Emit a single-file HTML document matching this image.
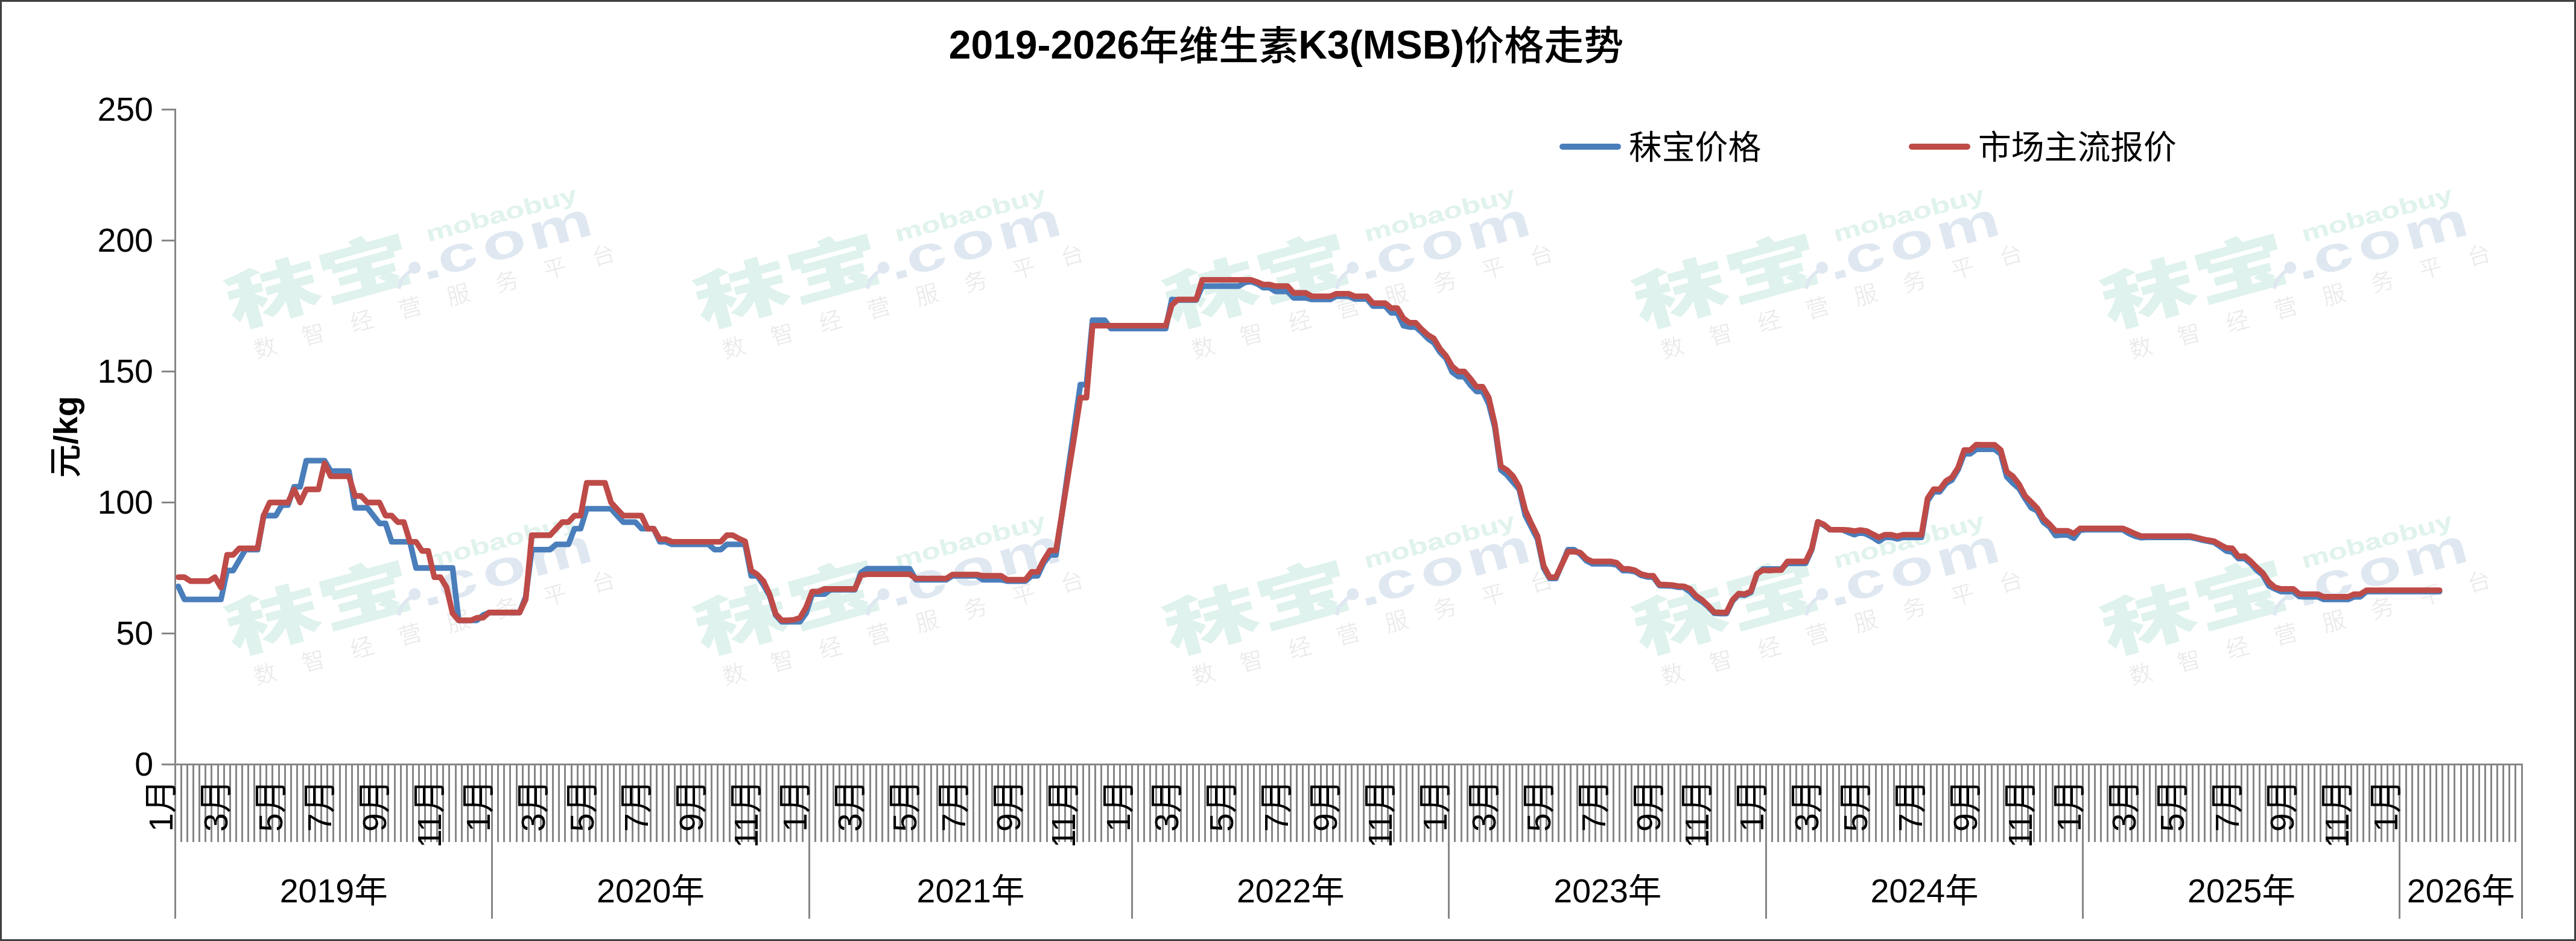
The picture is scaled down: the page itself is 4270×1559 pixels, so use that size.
<!DOCTYPE html>
<html lang="zh-CN"><head><meta charset="utf-8"><title>2019-2026年维生素K3(MSB)价格走势</title>
<style>html,body{margin:0;padding:0;background:#fff}body{width:4270px;height:1559px;overflow:hidden}svg{display:block}text{font-family:"Liberation Sans","Noto Sans CJK SC",sans-serif}.t{font-size:66px;font-weight:bold;fill:#000}.l{font-size:55.5px;fill:#000}.wm1{font-family:"Noto Sans CJK SC","Liberation Sans",sans-serif;font-weight:900;fill:#dff2ed}.wm2{font-weight:bold;fill:#dfe8f1}.wm3{font-weight:bold;fill:#e0f3ec}.wm4{font-family:"Noto Sans CJK SC",sans-serif;font-weight:300;fill:#e8e8e8}</style></head><body>
<svg width="4270" height="1559" viewBox="0 0 4270 1559">
<rect x="0" y="0" width="4270" height="1559" fill="#fff"/>
<defs><g id="wm"><text class="wm1" font-size="105" transform="translate(14,2) scale(1.5,1)">秣宝</text><path d="M296 12Q300 -4 326 -13" stroke="#dfe8f1" stroke-width="6" fill="none"/><circle cx="330" cy="-15" r="10" fill="#dfe8f1"/><text class="wm2" font-size="82" transform="translate(340,10) scale(1.45,1)" letter-spacing="3.5">.<tspan dx="-5.6">c</tspan><tspan dx="4">o</tspan><tspan dx="2">m</tspan></text><text class="wm3" font-size="37.5" transform="translate(363,-50) scale(1.36,1)">mobaobuy</text><text class="wm4" x="37" y="61" font-size="38" letter-spacing="45">数智经营服务平台</text></g></defs>
<use href="#wm" transform="translate(373,545) rotate(-15.3)"/>
<use href="#wm" transform="translate(1150,545) rotate(-15.3)"/>
<use href="#wm" transform="translate(1928,545) rotate(-15.3)"/>
<use href="#wm" transform="translate(2706,545) rotate(-15.3)"/>
<use href="#wm" transform="translate(3482,545) rotate(-15.3)"/>
<use href="#wm" transform="translate(373,1086) rotate(-15.3)"/>
<use href="#wm" transform="translate(1150,1086) rotate(-15.3)"/>
<use href="#wm" transform="translate(1928,1086) rotate(-15.3)"/>
<use href="#wm" transform="translate(2706,1086) rotate(-15.3)"/>
<use href="#wm" transform="translate(3482,1086) rotate(-15.3)"/>
<g fill="#868686">
<rect x="289" y="180" width="3" height="1088"/>
<rect x="268" y="1265" width="3914" height="3"/>
<rect x="268" y="1048.0" width="22" height="3"/>
<rect x="268" y="831.0" width="22" height="3"/>
<rect x="268" y="614.0" width="22" height="3"/>
<rect x="268" y="397.0" width="22" height="3"/>
<rect x="268" y="180.0" width="22" height="3"/>
</g>
<path d="M299 1268h3v127h-3zM309 1268h3v127h-3zM319 1268h3v127h-3zM329 1268h3v127h-3zM339 1268h3v127h-3zM349 1268h3v127h-3zM360 1268h3v127h-3zM370 1268h3v127h-3zM380 1268h3v127h-3zM390 1268h3v127h-3zM400 1268h3v127h-3zM410 1268h3v127h-3zM420 1268h3v127h-3zM430 1268h3v127h-3zM440 1268h3v127h-3zM450 1268h3v127h-3zM461 1268h3v127h-3zM471 1268h3v127h-3zM481 1268h3v127h-3zM491 1268h3v127h-3zM501 1268h3v127h-3zM511 1268h3v127h-3zM521 1268h3v127h-3zM531 1268h3v127h-3zM541 1268h3v127h-3zM551 1268h3v127h-3zM562 1268h3v127h-3zM572 1268h3v127h-3zM582 1268h3v127h-3zM592 1268h3v127h-3zM602 1268h3v127h-3zM612 1268h3v127h-3zM622 1268h3v127h-3zM632 1268h3v127h-3zM642 1268h3v127h-3zM653 1268h3v127h-3zM663 1268h3v127h-3zM673 1268h3v127h-3zM683 1268h3v127h-3zM693 1268h3v127h-3zM703 1268h3v127h-3zM713 1268h3v127h-3zM723 1268h3v127h-3zM733 1268h3v127h-3zM743 1268h3v127h-3zM754 1268h3v127h-3zM764 1268h3v127h-3zM774 1268h3v127h-3zM784 1268h3v127h-3zM794 1268h3v127h-3zM804 1268h3v127h-3zM814 1268h3v127h-3zM824 1268h3v127h-3zM834 1268h3v127h-3zM844 1268h3v127h-3zM855 1268h3v127h-3zM865 1268h3v127h-3zM875 1268h3v127h-3zM885 1268h3v127h-3zM895 1268h3v127h-3zM905 1268h3v127h-3zM915 1268h3v127h-3zM925 1268h3v127h-3zM935 1268h3v127h-3zM946 1268h3v127h-3zM956 1268h3v127h-3zM966 1268h3v127h-3zM976 1268h3v127h-3zM986 1268h3v127h-3zM996 1268h3v127h-3zM1006 1268h3v127h-3zM1016 1268h3v127h-3zM1026 1268h3v127h-3zM1036 1268h3v127h-3zM1047 1268h3v127h-3zM1057 1268h3v127h-3zM1067 1268h3v127h-3zM1077 1268h3v127h-3zM1087 1268h3v127h-3zM1097 1268h3v127h-3zM1107 1268h3v127h-3zM1117 1268h3v127h-3zM1127 1268h3v127h-3zM1137 1268h3v127h-3zM1148 1268h3v127h-3zM1158 1268h3v127h-3zM1168 1268h3v127h-3zM1178 1268h3v127h-3zM1188 1268h3v127h-3zM1198 1268h3v127h-3zM1208 1268h3v127h-3zM1218 1268h3v127h-3zM1228 1268h3v127h-3zM1239 1268h3v127h-3zM1249 1268h3v127h-3zM1259 1268h3v127h-3zM1269 1268h3v127h-3zM1279 1268h3v127h-3zM1289 1268h3v127h-3zM1299 1268h3v127h-3zM1309 1268h3v127h-3zM1319 1268h3v127h-3zM1329 1268h3v127h-3zM1340 1268h3v127h-3zM1350 1268h3v127h-3zM1360 1268h3v127h-3zM1370 1268h3v127h-3zM1380 1268h3v127h-3zM1390 1268h3v127h-3zM1400 1268h3v127h-3zM1410 1268h3v127h-3zM1420 1268h3v127h-3zM1430 1268h3v127h-3zM1441 1268h3v127h-3zM1451 1268h3v127h-3zM1461 1268h3v127h-3zM1471 1268h3v127h-3zM1481 1268h3v127h-3zM1491 1268h3v127h-3zM1501 1268h3v127h-3zM1511 1268h3v127h-3zM1521 1268h3v127h-3zM1531 1268h3v127h-3zM1542 1268h3v127h-3zM1552 1268h3v127h-3zM1562 1268h3v127h-3zM1572 1268h3v127h-3zM1582 1268h3v127h-3zM1592 1268h3v127h-3zM1602 1268h3v127h-3zM1612 1268h3v127h-3zM1622 1268h3v127h-3zM1633 1268h3v127h-3zM1643 1268h3v127h-3zM1653 1268h3v127h-3zM1663 1268h3v127h-3zM1673 1268h3v127h-3zM1683 1268h3v127h-3zM1693 1268h3v127h-3zM1703 1268h3v127h-3zM1713 1268h3v127h-3zM1723 1268h3v127h-3zM1734 1268h3v127h-3zM1744 1268h3v127h-3zM1754 1268h3v127h-3zM1764 1268h3v127h-3zM1774 1268h3v127h-3zM1784 1268h3v127h-3zM1794 1268h3v127h-3zM1804 1268h3v127h-3zM1814 1268h3v127h-3zM1824 1268h3v127h-3zM1835 1268h3v127h-3zM1845 1268h3v127h-3zM1855 1268h3v127h-3zM1865 1268h3v127h-3zM1875 1268h3v127h-3zM1885 1268h3v127h-3zM1895 1268h3v127h-3zM1905 1268h3v127h-3zM1915 1268h3v127h-3zM1926 1268h3v127h-3zM1936 1268h3v127h-3zM1946 1268h3v127h-3zM1956 1268h3v127h-3zM1966 1268h3v127h-3zM1976 1268h3v127h-3zM1986 1268h3v127h-3zM1996 1268h3v127h-3zM2006 1268h3v127h-3zM2016 1268h3v127h-3zM2027 1268h3v127h-3zM2037 1268h3v127h-3zM2047 1268h3v127h-3zM2057 1268h3v127h-3zM2067 1268h3v127h-3zM2077 1268h3v127h-3zM2087 1268h3v127h-3zM2097 1268h3v127h-3zM2107 1268h3v127h-3zM2117 1268h3v127h-3zM2128 1268h3v127h-3zM2138 1268h3v127h-3zM2148 1268h3v127h-3zM2158 1268h3v127h-3zM2168 1268h3v127h-3zM2178 1268h3v127h-3zM2188 1268h3v127h-3zM2198 1268h3v127h-3zM2208 1268h3v127h-3zM2219 1268h3v127h-3zM2229 1268h3v127h-3zM2239 1268h3v127h-3zM2249 1268h3v127h-3zM2259 1268h3v127h-3zM2269 1268h3v127h-3zM2279 1268h3v127h-3zM2289 1268h3v127h-3zM2299 1268h3v127h-3zM2309 1268h3v127h-3zM2320 1268h3v127h-3zM2330 1268h3v127h-3zM2340 1268h3v127h-3zM2350 1268h3v127h-3zM2360 1268h3v127h-3zM2370 1268h3v127h-3zM2380 1268h3v127h-3zM2390 1268h3v127h-3zM2400 1268h3v127h-3zM2410 1268h3v127h-3zM2421 1268h3v127h-3zM2431 1268h3v127h-3zM2441 1268h3v127h-3zM2451 1268h3v127h-3zM2461 1268h3v127h-3zM2471 1268h3v127h-3zM2481 1268h3v127h-3zM2491 1268h3v127h-3zM2501 1268h3v127h-3zM2512 1268h3v127h-3zM2522 1268h3v127h-3zM2532 1268h3v127h-3zM2542 1268h3v127h-3zM2552 1268h3v127h-3zM2562 1268h3v127h-3zM2572 1268h3v127h-3zM2582 1268h3v127h-3zM2592 1268h3v127h-3zM2602 1268h3v127h-3zM2613 1268h3v127h-3zM2623 1268h3v127h-3zM2633 1268h3v127h-3zM2643 1268h3v127h-3zM2653 1268h3v127h-3zM2663 1268h3v127h-3zM2673 1268h3v127h-3zM2683 1268h3v127h-3zM2693 1268h3v127h-3zM2703 1268h3v127h-3zM2714 1268h3v127h-3zM2724 1268h3v127h-3zM2734 1268h3v127h-3zM2744 1268h3v127h-3zM2754 1268h3v127h-3zM2764 1268h3v127h-3zM2774 1268h3v127h-3zM2784 1268h3v127h-3zM2794 1268h3v127h-3zM2804 1268h3v127h-3zM2815 1268h3v127h-3zM2825 1268h3v127h-3zM2835 1268h3v127h-3zM2845 1268h3v127h-3zM2855 1268h3v127h-3zM2865 1268h3v127h-3zM2875 1268h3v127h-3zM2885 1268h3v127h-3zM2895 1268h3v127h-3zM2906 1268h3v127h-3zM2916 1268h3v127h-3zM2926 1268h3v127h-3zM2936 1268h3v127h-3zM2946 1268h3v127h-3zM2956 1268h3v127h-3zM2966 1268h3v127h-3zM2976 1268h3v127h-3zM2986 1268h3v127h-3zM2996 1268h3v127h-3zM3007 1268h3v127h-3zM3017 1268h3v127h-3zM3027 1268h3v127h-3zM3037 1268h3v127h-3zM3047 1268h3v127h-3zM3057 1268h3v127h-3zM3067 1268h3v127h-3zM3077 1268h3v127h-3zM3087 1268h3v127h-3zM3097 1268h3v127h-3zM3108 1268h3v127h-3zM3118 1268h3v127h-3zM3128 1268h3v127h-3zM3138 1268h3v127h-3zM3148 1268h3v127h-3zM3158 1268h3v127h-3zM3168 1268h3v127h-3zM3178 1268h3v127h-3zM3188 1268h3v127h-3zM3199 1268h3v127h-3zM3209 1268h3v127h-3zM3219 1268h3v127h-3zM3229 1268h3v127h-3zM3239 1268h3v127h-3zM3249 1268h3v127h-3zM3259 1268h3v127h-3zM3269 1268h3v127h-3zM3279 1268h3v127h-3zM3289 1268h3v127h-3zM3300 1268h3v127h-3zM3310 1268h3v127h-3zM3320 1268h3v127h-3zM3330 1268h3v127h-3zM3340 1268h3v127h-3zM3350 1268h3v127h-3zM3360 1268h3v127h-3zM3370 1268h3v127h-3zM3380 1268h3v127h-3zM3390 1268h3v127h-3zM3401 1268h3v127h-3zM3411 1268h3v127h-3zM3421 1268h3v127h-3zM3431 1268h3v127h-3zM3441 1268h3v127h-3zM3451 1268h3v127h-3zM3461 1268h3v127h-3zM3471 1268h3v127h-3zM3481 1268h3v127h-3zM3492 1268h3v127h-3zM3502 1268h3v127h-3zM3512 1268h3v127h-3zM3522 1268h3v127h-3zM3532 1268h3v127h-3zM3542 1268h3v127h-3zM3552 1268h3v127h-3zM3562 1268h3v127h-3zM3572 1268h3v127h-3zM3582 1268h3v127h-3zM3593 1268h3v127h-3zM3603 1268h3v127h-3zM3613 1268h3v127h-3zM3623 1268h3v127h-3zM3633 1268h3v127h-3zM3643 1268h3v127h-3zM3653 1268h3v127h-3zM3663 1268h3v127h-3zM3673 1268h3v127h-3zM3683 1268h3v127h-3zM3694 1268h3v127h-3zM3704 1268h3v127h-3zM3714 1268h3v127h-3zM3724 1268h3v127h-3zM3734 1268h3v127h-3zM3744 1268h3v127h-3zM3754 1268h3v127h-3zM3764 1268h3v127h-3zM3774 1268h3v127h-3zM3785 1268h3v127h-3zM3795 1268h3v127h-3zM3805 1268h3v127h-3zM3815 1268h3v127h-3zM3825 1268h3v127h-3zM3835 1268h3v127h-3zM3845 1268h3v127h-3zM3855 1268h3v127h-3zM3865 1268h3v127h-3zM3875 1268h3v127h-3zM3886 1268h3v127h-3zM3896 1268h3v127h-3zM3906 1268h3v127h-3zM3916 1268h3v127h-3zM3926 1268h3v127h-3zM3936 1268h3v127h-3zM3946 1268h3v127h-3zM3956 1268h3v127h-3zM3966 1268h3v127h-3zM3976 1268h3v127h-3zM3987 1268h3v127h-3zM3997 1268h3v127h-3zM4007 1268h3v127h-3zM4017 1268h3v127h-3zM4027 1268h3v127h-3zM4037 1268h3v127h-3zM4047 1268h3v127h-3zM4057 1268h3v127h-3zM4067 1268h3v127h-3zM4078 1268h3v127h-3zM4088 1268h3v127h-3zM4098 1268h3v127h-3zM4108 1268h3v127h-3zM4118 1268h3v127h-3zM4128 1268h3v127h-3zM4138 1268h3v127h-3zM4148 1268h3v127h-3zM4158 1268h3v127h-3zM4168 1268h3v127h-3z" fill="#868686" shape-rendering="crispEdges"/>
<path d="M289 1268h3v254h-3zM814 1268h3v254h-3zM1340 1268h3v254h-3zM1875 1268h3v254h-3zM2400 1268h3v254h-3zM2926 1268h3v254h-3zM3451 1268h3v254h-3zM3976 1268h3v254h-3zM4179 1268h3v254h-3z" fill="#868686" shape-rendering="crispEdges"/>
<g class="l" text-anchor="end">
<text x="254" y="1285.0">0</text>
<text x="254" y="1068.0">50</text>
<text x="254" y="851.0">100</text>
<text x="254" y="634.0">150</text>
<text x="254" y="417.0">200</text>
<text x="254" y="200.0">250</text>
</g>
<text class="l" font-weight="bold" text-anchor="middle" transform="translate(128,724) rotate(-90)"><tspan font-weight="500">元</tspan>/kg</text>
<g class="l" text-anchor="end">
<text transform="translate(286.4,1291.5) rotate(-90)">1月</text>
<text transform="translate(377.3,1291.5) rotate(-90)">3月</text>
<text transform="translate(468.2,1291.5) rotate(-90)">5月</text>
<text transform="translate(549.0,1291.5) rotate(-90)">7月</text>
<text transform="translate(640.0,1291.5) rotate(-90)">9月</text>
<text transform="translate(730.9,1291.5) rotate(-90)">11月</text>
<text transform="translate(811.7,1291.5) rotate(-90)">1月</text>
<text transform="translate(902.6,1291.5) rotate(-90)">3月</text>
<text transform="translate(983.5,1291.5) rotate(-90)">5月</text>
<text transform="translate(1074.4,1291.5) rotate(-90)">7月</text>
<text transform="translate(1165.3,1291.5) rotate(-90)">9月</text>
<text transform="translate(1256.3,1291.5) rotate(-90)">11月</text>
<text transform="translate(1337.1,1291.5) rotate(-90)">1月</text>
<text transform="translate(1428.0,1291.5) rotate(-90)">3月</text>
<text transform="translate(1518.9,1291.5) rotate(-90)">5月</text>
<text transform="translate(1599.8,1291.5) rotate(-90)">7月</text>
<text transform="translate(1690.7,1291.5) rotate(-90)">9月</text>
<text transform="translate(1781.6,1291.5) rotate(-90)">11月</text>
<text transform="translate(1872.6,1291.5) rotate(-90)">1月</text>
<text transform="translate(1953.4,1291.5) rotate(-90)">3月</text>
<text transform="translate(2044.3,1291.5) rotate(-90)">5月</text>
<text transform="translate(2135.2,1291.5) rotate(-90)">7月</text>
<text transform="translate(2216.1,1291.5) rotate(-90)">9月</text>
<text transform="translate(2307.0,1291.5) rotate(-90)">11月</text>
<text transform="translate(2397.9,1291.5) rotate(-90)">1月</text>
<text transform="translate(2478.7,1291.5) rotate(-90)">3月</text>
<text transform="translate(2569.7,1291.5) rotate(-90)">5月</text>
<text transform="translate(2660.6,1291.5) rotate(-90)">7月</text>
<text transform="translate(2751.5,1291.5) rotate(-90)">9月</text>
<text transform="translate(2832.4,1291.5) rotate(-90)">11月</text>
<text transform="translate(2923.3,1291.5) rotate(-90)">1月</text>
<text transform="translate(3014.2,1291.5) rotate(-90)">3月</text>
<text transform="translate(3095.0,1291.5) rotate(-90)">5月</text>
<text transform="translate(3186.0,1291.5) rotate(-90)">7月</text>
<text transform="translate(3276.9,1291.5) rotate(-90)">9月</text>
<text transform="translate(3367.8,1291.5) rotate(-90)">11月</text>
<text transform="translate(3448.7,1291.5) rotate(-90)">1月</text>
<text transform="translate(3539.6,1291.5) rotate(-90)">3月</text>
<text transform="translate(3620.4,1291.5) rotate(-90)">5月</text>
<text transform="translate(3711.3,1291.5) rotate(-90)">7月</text>
<text transform="translate(3802.3,1291.5) rotate(-90)">9月</text>
<text transform="translate(3893.2,1291.5) rotate(-90)">11月</text>
<text transform="translate(3974.0,1291.5) rotate(-90)">1月</text>
</g>
<g class="l" text-anchor="middle">
<text x="553.2" y="1494.5">2019年</text>
<text x="1078.5" y="1494.5">2020年</text>
<text x="1609.0" y="1494.5">2021年</text>
<text x="2139.4" y="1494.5">2022年</text>
<text x="2664.8" y="1494.5">2023年</text>
<text x="3190.1" y="1494.5">2024年</text>
<text x="3715.5" y="1494.5">2025年</text>
<text x="4079.2" y="1494.5">2026年</text>
</g>
<text class="t" text-anchor="middle" x="2132" y="97">2019-2026<tspan font-weight="500" dy="2">年维生素</tspan><tspan dy="-2">K3(MSB)</tspan><tspan font-weight="500" dy="2">价格走势</tspan></text>
<path d="M2590 243H2682" stroke="#4a7ebb" stroke-width="10" stroke-linecap="round"/>
<text class="l" style="font-size:54.8px" x="2700" y="263">秣宝价格</text>
<path d="M3169 243H3261" stroke="#be4b48" stroke-width="10" stroke-linecap="round"/>
<text class="l" style="font-size:54.8px" x="3279" y="263">市场主流报价</text>
<polyline points="295.6,971.4 305.7,993.1 315.8,993.1 325.9,993.1 336.0,993.1 346.1,993.1 356.2,993.1 366.3,993.1 376.4,945.3 386.5,945.3 396.6,928.0 406.7,910.6 416.8,910.6 426.9,910.6 437.0,854.2 447.1,854.2 457.2,854.2 467.3,836.8 477.4,836.8 487.5,806.5 497.6,806.5 507.7,763.1 517.8,763.1 527.9,763.1 538.0,763.1 548.1,780.4 558.2,780.4 568.3,780.4 578.4,780.4 588.5,841.2 598.6,841.2 608.8,841.2 618.9,854.2 629.0,867.2 639.1,867.2 649.2,897.6 659.3,897.6 669.4,897.6 679.5,897.6 689.6,941.0 699.7,941.0 709.8,941.0 719.9,941.0 730.0,941.0 740.1,941.0 750.2,941.0 760.3,1027.8 770.4,1027.8 780.5,1027.8 790.6,1027.8 800.7,1019.1 810.8,1014.8 820.9,1014.8 831.0,1014.8 841.1,1014.8 851.2,1014.8 861.3,1014.8 871.4,988.7 881.5,910.6 891.6,910.6 901.7,910.6 911.8,910.6 921.9,901.9 932.1,901.9 942.2,901.9 952.3,875.9 962.4,875.9 972.5,842.9 982.6,842.9 992.7,842.9 1002.8,842.9 1012.9,842.9 1023.0,854.2 1033.1,865.0 1043.2,865.0 1053.3,865.0 1063.4,875.9 1073.5,875.9 1083.6,875.9 1093.7,897.6 1103.8,897.6 1113.9,901.9 1124.0,901.9 1134.1,901.9 1144.2,901.9 1154.3,901.9 1164.4,901.9 1174.5,901.9 1184.6,910.6 1194.7,910.6 1204.8,901.9 1214.9,901.9 1225.0,901.9 1235.1,901.9 1245.3,954.0 1255.4,954.0 1265.5,969.2 1275.6,986.6 1285.7,1019.1 1295.8,1030.0 1305.9,1030.0 1316.0,1030.0 1326.1,1030.0 1336.2,1016.1 1346.3,984.4 1356.4,984.4 1366.5,984.4 1376.6,977.0 1386.7,977.0 1396.8,977.0 1406.9,977.0 1417.0,977.0 1427.1,948.8 1437.2,942.3 1447.3,942.3 1457.4,942.3 1467.5,942.3 1477.6,942.3 1487.7,942.3 1497.8,942.3 1507.9,942.3 1518.0,960.5 1528.1,960.5 1538.2,960.5 1548.3,960.5 1558.5,960.5 1568.6,960.5 1578.7,954.0 1588.8,954.0 1598.9,954.0 1609.0,954.0 1619.1,954.0 1629.2,960.5 1639.3,960.5 1649.4,960.5 1659.5,960.5 1669.6,962.7 1679.7,962.7 1689.8,962.7 1699.9,962.7 1710.0,954.0 1720.1,954.0 1730.2,932.3 1740.3,919.3 1750.4,919.3 1760.5,849.9 1770.6,778.2 1780.7,708.8 1790.8,637.2 1800.9,637.2 1811.0,530.4 1821.1,530.4 1831.2,530.4 1841.3,544.3 1851.4,544.3 1861.5,544.3 1871.7,544.3 1881.8,544.3 1891.9,544.3 1902.0,544.3 1912.1,544.3 1922.2,544.3 1932.3,544.3 1942.4,496.1 1952.5,497.0 1962.6,497.0 1972.7,497.0 1982.8,497.0 1992.9,474.0 2003.0,474.0 2013.1,474.0 2023.2,474.0 2033.3,474.0 2043.4,474.0 2053.5,474.0 2063.6,467.9 2073.7,466.6 2083.8,470.1 2093.9,476.6 2104.0,476.6 2114.1,482.7 2124.2,482.7 2134.3,482.7 2144.4,493.5 2154.5,493.5 2164.6,493.5 2174.7,496.1 2184.8,496.1 2195.0,496.1 2205.1,496.1 2215.2,490.9 2225.3,490.9 2235.4,490.9 2245.5,495.3 2255.6,495.3 2265.7,495.3 2275.8,507.0 2285.9,507.0 2296.0,507.0 2306.1,518.3 2316.2,518.3 2326.3,539.6 2336.4,541.7 2346.5,541.7 2356.6,550.4 2366.7,560.8 2376.8,567.8 2386.9,583.4 2397.0,593.8 2407.1,616.4 2417.2,623.7 2427.3,624.2 2437.4,638.1 2447.5,648.5 2457.6,648.5 2467.7,668.9 2477.8,707.9 2487.9,778.7 2498.0,786.9 2508.2,799.1 2518.3,810.8 2528.4,854.2 2538.5,873.7 2548.6,893.3 2558.7,941.0 2568.8,958.4 2578.9,958.4 2589.0,934.9 2599.1,910.6 2609.2,910.6 2619.3,918.0 2629.4,928.8 2639.5,934.1 2649.6,934.1 2659.7,934.1 2669.8,934.1 2679.9,935.8 2690.0,945.3 2700.1,945.3 2710.2,947.1 2720.3,953.2 2730.4,955.8 2740.5,956.2 2750.6,970.1 2760.7,970.5 2770.8,970.9 2780.9,972.7 2791.0,973.1 2801.1,980.1 2811.2,990.5 2821.4,996.6 2831.5,1005.2 2841.6,1016.1 2851.7,1016.5 2861.8,1016.5 2871.9,995.7 2882.0,985.3 2892.1,986.1 2902.2,981.4 2912.3,951.4 2922.4,942.7 2932.5,942.7 2942.6,942.7 2952.7,942.7 2962.8,933.2 2972.9,933.2 2983.0,933.2 2993.1,933.2 3003.2,910.6 3013.3,864.6 3023.4,870.3 3033.5,877.6 3043.6,877.6 3053.7,877.6 3063.8,882.0 3073.9,885.9 3084.0,882.0 3094.1,885.0 3104.2,890.2 3114.3,896.7 3124.4,890.2 3134.6,890.2 3144.7,892.8 3154.8,890.2 3164.9,890.2 3175.0,890.2 3185.1,890.2 3195.2,829.9 3205.3,814.7 3215.4,814.7 3225.5,801.3 3235.6,795.2 3245.7,778.2 3255.8,751.8 3265.9,751.8 3276.0,744.4 3286.1,744.4 3296.2,744.4 3306.3,744.4 3316.4,752.2 3326.5,790.0 3336.6,800.4 3346.7,809.1 3356.8,826.0 3366.9,841.2 3377.0,846.4 3387.1,865.0 3397.2,872.9 3407.3,887.2 3417.4,886.3 3427.5,886.3 3437.6,891.5 3447.8,878.5 3457.9,877.6 3468.0,877.6 3478.1,877.6 3488.2,877.6 3498.3,877.6 3508.4,877.6 3518.5,877.6 3528.6,883.7 3538.7,888.1 3548.8,890.7 3558.9,890.2 3569.0,890.2 3579.1,890.2 3589.2,890.2 3599.3,890.2 3609.4,890.2 3619.5,890.2 3629.6,890.2 3639.7,892.0 3649.8,894.6 3659.9,896.7 3670.0,898.5 3680.1,905.4 3690.2,912.8 3700.3,914.5 3710.4,925.4 3720.5,925.4 3730.6,933.2 3740.7,944.5 3750.8,952.7 3760.9,970.5 3771.1,975.7 3781.2,980.1 3791.3,980.1 3801.4,980.1 3811.5,988.3 3821.6,988.7 3831.7,988.7 3841.8,988.7 3851.9,993.1 3862.0,993.1 3872.1,993.1 3882.2,993.1 3892.3,993.1 3902.4,988.7 3912.5,988.7 3922.6,980.1 3932.7,980.1 3942.8,980.1 3952.9,980.1 3963.0,980.1 3973.1,980.1 3983.2,980.1 3993.3,980.1 4003.4,980.1 4013.5,980.1 4023.6,980.1 4033.7,980.1 4043.8,980.1" fill="none" stroke="#4a7ebb" stroke-width="9.4" stroke-linecap="round" stroke-linejoin="round"/>
<polyline points="295.6,956.2 305.7,956.2 315.8,962.7 325.9,962.7 336.0,962.7 346.1,962.7 356.2,956.2 366.3,973.5 376.4,919.3 386.5,919.3 396.6,908.5 406.7,908.5 416.8,908.5 426.9,908.5 437.0,854.2 447.1,832.5 457.2,832.5 467.3,832.5 477.4,832.5 487.5,810.8 497.6,832.5 507.7,810.8 517.8,810.8 527.9,810.8 538.0,767.4 548.1,789.1 558.2,789.1 568.3,789.1 578.4,789.1 588.5,821.7 598.6,821.7 608.8,832.5 618.9,832.5 629.0,832.5 639.1,854.2 649.2,854.2 659.3,865.0 669.4,865.0 679.5,897.6 689.6,897.6 699.7,912.8 709.8,912.8 719.9,956.2 730.0,956.2 740.1,972.7 750.2,1016.1 760.3,1027.8 770.4,1027.8 780.5,1027.8 790.6,1023.5 800.7,1023.5 810.8,1014.8 820.9,1014.8 831.0,1014.8 841.1,1014.8 851.2,1014.8 861.3,1014.8 871.4,993.1 881.5,886.8 891.6,886.8 901.7,886.8 911.8,886.8 921.9,875.9 932.1,865.0 942.2,865.0 952.3,854.2 962.4,854.2 972.5,800.0 982.6,800.0 992.7,800.0 1002.8,800.0 1012.9,832.5 1023.0,843.4 1033.1,854.2 1043.2,854.2 1053.3,854.2 1063.4,854.2 1073.5,875.9 1083.6,875.9 1093.7,893.3 1103.8,893.3 1113.9,897.6 1124.0,897.6 1134.1,897.6 1144.2,897.6 1154.3,897.6 1164.4,897.6 1174.5,897.6 1184.6,897.6 1194.7,897.6 1204.8,886.8 1214.9,886.8 1225.0,892.4 1235.1,896.7 1245.3,945.3 1255.4,951.9 1265.5,962.7 1275.6,984.4 1285.7,1017.0 1295.8,1027.8 1305.9,1027.8 1316.0,1026.9 1326.1,1023.5 1336.2,1006.1 1346.3,980.1 1356.4,980.1 1366.5,975.7 1376.6,975.7 1386.7,975.7 1396.8,975.7 1406.9,975.7 1417.0,975.7 1427.1,953.2 1437.2,951.4 1447.3,951.4 1457.4,951.4 1467.5,951.4 1477.6,951.4 1487.7,951.4 1497.8,951.4 1507.9,951.4 1518.0,958.4 1528.1,958.4 1538.2,958.4 1548.3,958.4 1558.5,958.4 1568.6,958.4 1578.7,951.9 1588.8,951.9 1598.9,951.9 1609.0,951.9 1619.1,951.9 1629.2,954.0 1639.3,954.0 1649.4,954.0 1659.5,954.0 1669.6,960.5 1679.7,960.5 1689.8,960.5 1699.9,960.5 1710.0,947.5 1720.1,947.5 1730.2,928.0 1740.3,911.9 1750.4,911.9 1760.5,849.9 1770.6,786.9 1780.7,724.0 1790.8,658.9 1800.9,658.9 1811.0,539.6 1821.1,539.6 1831.2,539.6 1841.3,539.6 1851.4,539.6 1861.5,539.6 1871.7,539.6 1881.8,539.6 1891.9,539.6 1902.0,539.6 1912.1,539.6 1922.2,539.6 1932.3,539.6 1942.4,505.7 1952.5,496.1 1962.6,496.1 1972.7,496.1 1982.8,496.1 1992.9,463.6 2003.0,463.6 2013.1,463.6 2023.2,463.6 2033.3,463.6 2043.4,463.6 2053.5,463.6 2063.6,463.6 2073.7,463.6 2083.8,467.1 2093.9,471.4 2104.0,471.4 2114.1,474.0 2124.2,474.0 2134.3,474.0 2144.4,485.3 2154.5,485.3 2164.6,485.3 2174.7,490.9 2184.8,490.9 2195.0,490.9 2205.1,490.9 2215.2,486.6 2225.3,486.6 2235.4,486.6 2245.5,490.9 2255.6,490.9 2265.7,490.9 2275.8,502.2 2285.9,502.2 2296.0,502.2 2306.1,510.5 2316.2,510.5 2326.3,527.4 2336.4,534.8 2346.5,534.8 2356.6,545.6 2366.7,554.7 2376.8,560.8 2386.9,577.7 2397.0,589.5 2407.1,606.8 2417.2,615.5 2427.3,615.5 2437.4,627.2 2447.5,640.7 2457.6,640.7 2467.7,658.5 2477.8,702.3 2487.9,772.6 2498.0,778.7 2508.2,789.1 2518.3,806.5 2528.4,845.5 2538.5,867.7 2548.6,888.1 2558.7,937.1 2568.8,956.2 2578.9,956.2 2589.0,934.9 2599.1,913.7 2609.2,914.1 2619.3,915.4 2629.4,925.4 2639.5,930.2 2649.6,930.2 2659.7,930.2 2669.8,930.2 2679.9,932.3 2690.0,942.3 2700.1,942.7 2710.2,944.9 2720.3,951.0 2730.4,953.6 2740.5,954.0 2750.6,968.3 2760.7,968.8 2770.8,969.2 2780.9,970.9 2791.0,971.4 2801.1,975.3 2811.2,987.0 2821.4,993.9 2831.5,1003.5 2841.6,1014.3 2851.7,1014.8 2861.8,1014.8 2871.9,993.9 2882.0,983.5 2892.1,984.4 2902.2,979.6 2912.3,950.5 2922.4,944.5 2932.5,945.3 2942.6,944.5 2952.7,944.5 2962.8,930.2 2972.9,930.2 2983.0,930.2 2993.1,930.2 3003.2,908.9 3013.3,864.6 3023.4,869.0 3033.5,877.4 3043.6,877.6 3053.7,877.6 3063.8,878.1 3073.9,879.8 3084.0,878.1 3094.1,879.8 3104.2,885.0 3114.3,890.2 3124.4,885.9 3134.6,885.9 3144.7,888.5 3154.8,885.9 3164.9,885.9 3175.0,885.9 3185.1,885.9 3195.2,825.6 3205.3,810.4 3215.4,810.8 3225.5,796.9 3235.6,790.8 3245.7,774.8 3255.8,745.7 3265.9,745.7 3276.0,736.6 3286.1,737.0 3296.2,737.0 3306.3,737.0 3316.4,745.3 3326.5,781.7 3336.6,789.1 3346.7,802.1 3356.8,821.7 3366.9,831.6 3377.0,842.0 3387.1,859.0 3397.2,868.5 3407.3,879.4 3417.4,879.4 3427.5,879.4 3437.6,884.1 3447.8,875.5 3457.9,875.5 3468.0,875.5 3478.1,875.5 3488.2,875.5 3498.3,875.5 3508.4,875.5 3518.5,875.5 3528.6,879.4 3538.7,884.1 3548.8,888.1 3558.9,888.1 3569.0,888.1 3579.1,888.1 3589.2,888.1 3599.3,888.1 3609.4,888.1 3619.5,888.1 3629.6,888.1 3639.7,890.2 3649.8,892.8 3659.9,895.0 3670.0,896.7 3680.1,902.4 3690.2,907.6 3700.3,908.5 3710.4,921.9 3720.5,921.5 3730.6,929.7 3740.7,940.1 3750.8,949.2 3760.9,964.4 3771.1,973.1 3781.2,975.7 3791.3,975.7 3801.4,975.7 3811.5,984.0 3821.6,984.4 3831.7,984.4 3841.8,984.4 3851.9,988.7 3862.0,988.7 3872.1,988.7 3882.2,988.7 3892.3,988.7 3902.4,984.4 3912.5,984.4 3922.6,977.9 3932.7,977.9 3942.8,977.9 3952.9,977.9 3963.0,977.9 3973.1,977.9 3983.2,977.9 3993.3,977.9 4003.4,977.9 4013.5,977.9 4023.6,977.9 4033.7,977.9 4043.8,977.9" fill="none" stroke="#be4b48" stroke-width="9.4" stroke-linecap="round" stroke-linejoin="round"/>
<path d="M1.5 1.5H4268.5V1557.5H1.5Z" fill="none" stroke="#404040" stroke-width="3"/>
</svg></body></html>
